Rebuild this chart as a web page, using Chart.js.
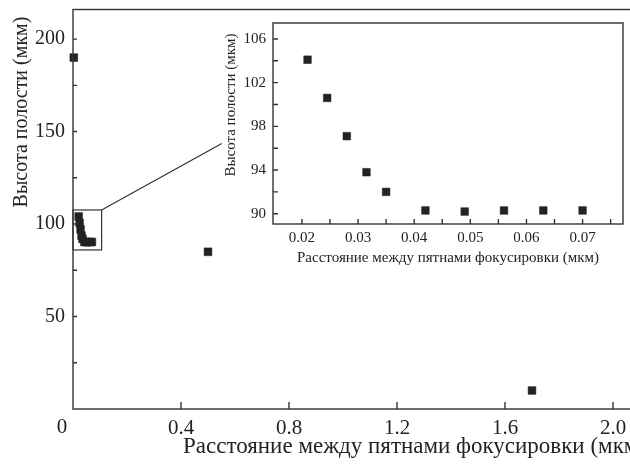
<!DOCTYPE html>
<html><head><meta charset="utf-8">
<script src="https://cdn.jsdelivr.net/npm/chart.js@4"></script>
<style>
html,body{margin:0;padding:0;background:#fff;}
#wrap{position:relative;width:630px;height:464px;overflow:hidden;background:#fff;}
#main{position:absolute;left:0;top:0;}
#inset{position:absolute;left:200px;top:0;}
</style></head><body>
<div id="wrap">
<canvas id="main" width="800" height="464"></canvas>
<canvas id="inset" width="430" height="280"></canvas>
</div>
<script>
// ---- data ----
const insetSpacing = [0.021, 0.0245, 0.028, 0.0315, 0.035, 0.042, 0.049, 0.056, 0.063, 0.07];
const insetHeight  = [104.1, 100.6, 97.1, 93.8, 92.0, 90.3, 90.2, 90.3, 90.3, 90.3];
const mainSpacing  = [0.003, 0.5, 1.7];
const mainHeight   = [190, 85, 10];
const mainXTicks   = [0.4, 0.8, 1.2, 1.6, 2.0];
const mainYTicks   = [50, 100, 150, 200];
const mainYMinor   = [25, 75, 125, 175];
const insetXTicks  = [0.02, 0.03, 0.04, 0.05, 0.06, 0.07];
const insetXMinor  = [0.025, 0.035, 0.045, 0.055, 0.065, 0.075];
const insetYTicks  = [90, 94, 98, 102, 106];
const insetYMinor  = [92, 96, 100, 104];
const yTitle = 'Высота полости (мкм)';
const xTitle = 'Расстояние между пятнами фокусировки (мкм)';
// zoom-box region (data units of main chart) and leader end point
const zoomBoxX = [0, 0.106];
const zoomBoxY = [86, 107.6];
const leaderEnd = [0.551, 143.6];

const INK = '#232323';
const LINE = '#333';
const FONT = '"Liberation Serif", "Times New Roman", serif';

function pts(xs, ys){ return xs.map((x,i)=>({x:x, y:ys[i]})); }
function txt(ctx, s, x, y, rot, size, align){
  ctx.save(); ctx.translate(x,y); ctx.rotate(rot);
  ctx.font = size + 'px ' + FONT; ctx.fillStyle = INK;
  ctx.textAlign = align || 'center'; ctx.textBaseline = 'middle';
  ctx.fillText(s,0,0); ctx.restore();
}
function frameAndTicks(chart, o){
  const ctx = chart.ctx, a = chart.chartArea, xs = chart.scales.x, ys = chart.scales.y;
  ctx.save();
  ctx.strokeStyle = LINE; ctx.lineWidth = o.lw;
  ctx.strokeRect(a.left, a.top, a.right - a.left, a.bottom - a.top);
  ctx.beginPath();
  o.xt.forEach(v=>{ const p = xs.getPixelForValue(v); ctx.moveTo(p, a.bottom); ctx.lineTo(p, a.bottom - o.xlen); });
  o.yt.forEach(v=>{ const p = ys.getPixelForValue(v); ctx.moveTo(a.left, p); ctx.lineTo(a.left + o.ylen, p); });
  ctx.stroke();
  ctx.restore();
}
function noPadX(s){ s.paddingLeft = 0; s.paddingRight = 0; }
function noPadY(s){ s.paddingTop = 0; s.paddingBottom = 0; }

const mainDeco = {
  id: 'mainDeco',
  afterDraw(chart){
    const ctx = chart.ctx, a = chart.chartArea, xs = chart.scales.x, ys = chart.scales.y;
    frameAndTicks(chart, {lw:1.4, xt: mainXTicks, yt: mainYTicks.concat(mainYMinor), xlen:7, ylen:4});
    const x0 = xs.getPixelForValue(zoomBoxX[0]), x1 = xs.getPixelForValue(zoomBoxX[1]);
    const y0 = ys.getPixelForValue(zoomBoxY[1]), y1 = ys.getPixelForValue(zoomBoxY[0]);
    ctx.save();
    ctx.strokeStyle = LINE; ctx.lineWidth = 1.2;
    ctx.strokeRect(x0, y0, x1 - x0, y1 - y0);
    ctx.beginPath();
    ctx.moveTo(x1, y0);
    ctx.lineTo(xs.getPixelForValue(leaderEnd[0]), ys.getPixelForValue(leaderEnd[1]));
    ctx.stroke();
    ctx.restore();
    txt(ctx, yTitle, 22, 112, -Math.PI/2, 20);
    txt(ctx, xTitle, 183, 447, 0, 23, 'left');
    txt(ctx, '0', 62, 427, 0, 21);
  }
};

const insetDeco = {
  id: 'insetDeco',
  afterDraw(chart){
    const ctx = chart.ctx, a = chart.chartArea;
    frameAndTicks(chart, {lw:1.4, xt: insetXTicks.concat(insetXMinor), yt: insetYTicks.concat(insetYMinor), xlen:5, ylen:5});
    txt(ctx, yTitle, 31.5, 105, -Math.PI/2, 15);
    txt(ctx, xTitle, (a.left + a.right)/2, 258, 0, 15);
  }
};

const common = {
  responsive: false, animation: false,
  plugins: { legend: {display:false}, tooltip: {enabled:false} },
};

new Chart(document.getElementById('main'), {
  type: 'scatter',
  data: { datasets: [
    { data: pts(insetSpacing, insetHeight), pointStyle:'rect', pointRadius:5.5, backgroundColor:INK, borderColor:INK, borderWidth:0.5, clip:false },
    { data: pts(mainSpacing, mainHeight), pointStyle:'rect', pointRadius:5.5, backgroundColor:INK, borderColor:INK, borderWidth:0.5, clip:false }
  ]},
  options: Object.assign({}, common, {
    layout: { padding: { top: 9.5, right: 38.5, left: 0, bottom: 0 } },
    scales: {
      x: { type:'linear', min:0, max:2.55,
           grid:{display:false, drawTicks:false}, border:{display:false},
           afterBuildTicks: s => { s.ticks = mainXTicks.map(v=>({value:v})); },
           afterFit: s => { s.height = 55; noPadX(s); },
           ticks:{ padding:7, color:INK, font:{family:FONT, size:21}, maxRotation:0, callback: v => Number(v).toFixed(1) } },
      y: { type:'linear', min:0, max:216,
           grid:{display:false, drawTicks:false}, border:{display:false},
           afterBuildTicks: s => { s.ticks = mainYTicks.map(v=>({value:v})); },
           afterFit: s => { s.width = 73; noPadY(s); },
           ticks:{ padding:8, color:INK, font:{family:FONT, size:20}, callback: v => String(v) } }
    }
  }),
  plugins: [mainDeco]
});

new Chart(document.getElementById('inset'), {
  type: 'scatter',
  data: { datasets: [
    { data: pts(insetSpacing, insetHeight), pointStyle:'rect', pointRadius:5.4, backgroundColor:INK, borderColor:INK, borderWidth:0.5, clip:false }
  ]},
  options: Object.assign({}, common, {
    layout: { padding: { top: 23, right: 7, left: 0, bottom: 0 } },
    scales: {
      x: { type:'linear', min:0.01485, max:0.0772,
           grid:{display:false, drawTicks:false}, border:{display:false},
           afterBuildTicks: s => { s.ticks = insetXTicks.map(v=>({value:v})); },
           afterFit: s => { s.height = 56; noPadX(s); },
           ticks:{ padding:5, color:INK, font:{family:FONT, size:15}, maxRotation:0, callback: v => Number(v).toFixed(2) } },
      y: { type:'linear', min:89.06, max:107.46,
           grid:{display:false, drawTicks:false}, border:{display:false},
           afterBuildTicks: s => { s.ticks = insetYTicks.map(v=>({value:v})); },
           afterFit: s => { s.width = 73; noPadY(s); },
           ticks:{ padding:7, color:INK, font:{family:FONT, size:15}, callback: v => String(v) } }
    }
  }),
  plugins: [insetDeco]
});
</script>
</body></html>
